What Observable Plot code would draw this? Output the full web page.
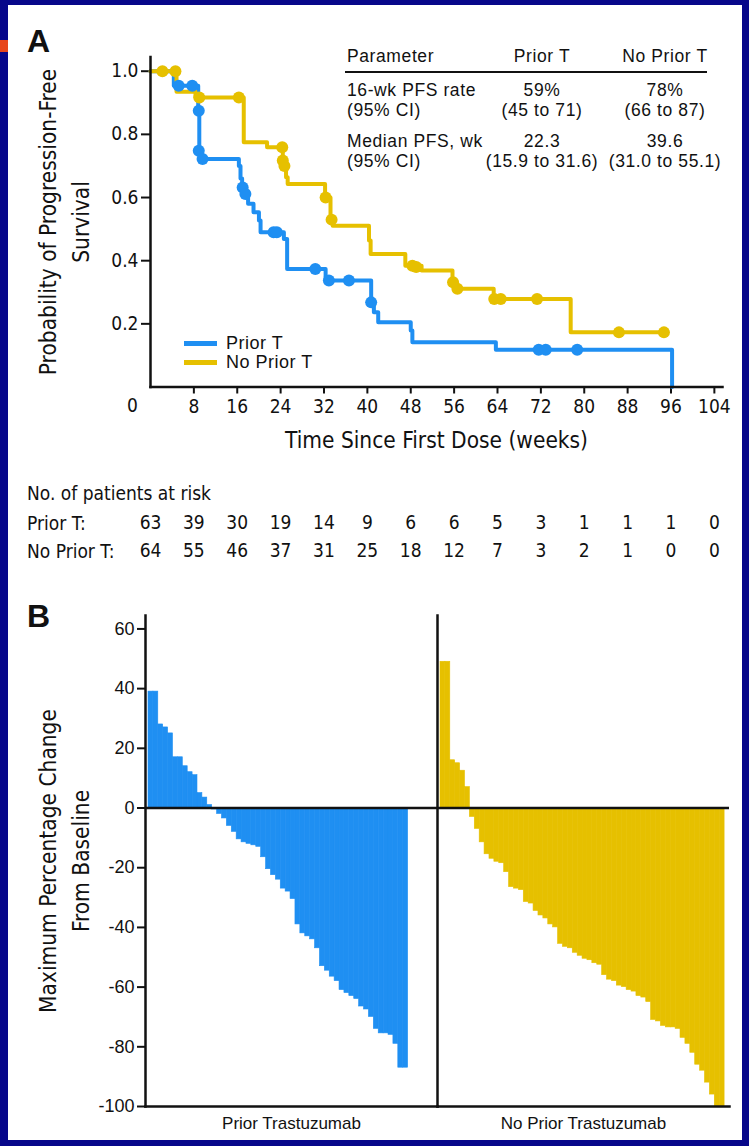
<!DOCTYPE html>
<html><head><meta charset="utf-8">
<script src="https://cdn.jsdelivr.net/npm/d3@7"></script>
<script src="https://cdn.jsdelivr.net/npm/@observablehq/plot@0.6"></script>
<style>
html,body{margin:0;padding:0;}
body{width:749px;height:1146px;background:#07078a;position:relative;overflow:hidden;font-family:"Liberation Sans",Arial,sans-serif;color:#111;}
#sheet{position:absolute;left:8px;top:5px;width:734px;height:1135px;background:#fff;}
#redmark{position:absolute;left:0;top:40px;width:8px;height:12px;background:#e8461c;}
.abs{position:absolute;white-space:nowrap;line-height:1;}
.c{transform:translate(-50%,-50%);}
.l{transform:translate(0,-50%);}
.tbl{font-size:17.5px;letter-spacing:0.6px;}
.nar{font-family:"Liberation Sans Narrow","DejaVu Sans Condensed",sans-serif;font-size:19px;}
.panel{position:absolute;left:27px;font-weight:bold;font-size:32px;line-height:1;}
.sw{position:absolute;height:5px;width:33px;}
svg{position:absolute;left:0;}
</style>
</head><body>
<div id="sheet"></div>
<div id="redmark"></div>
<div id="root"></div>
<script>
// ---------- Panel A data ----------
const xTicksA = [0, 8, 16, 24, 32, 40, 48, 56, 64, 72, 80, 88, 96, 104];
const yTicksA = [0.2, 0.4, 0.6, 0.8, 1.0];
// Kaplan-Meier step points (week, survival)
const priorT_time = [0, 4.3, 8.8, 9.0, 9.5, 16.3, 16.6, 16.9, 17.4, 18.0, 19.0, 20.0, 20.3, 24.6, 25.2, 32.3, 40.7, 41.2, 42.0, 48.0, 48.3, 63.7, 96.2];
const priorT_surv = [1.0, 0.954, 0.875, 0.748, 0.722, 0.70, 0.66, 0.632, 0.611, 0.58, 0.553, 0.527, 0.49, 0.469, 0.374, 0.337, 0.268, 0.237, 0.205, 0.179, 0.142, 0.118, 0];
const noPriorT_time = [0, 4.8, 8.3, 17.2, 21.5, 24.4, 24.7, 25.0, 25.3, 32.2, 33.2, 33.6, 40.3, 40.6, 47.0, 50.0, 55.7, 56.5, 63.3, 77.5, 94.7];
const noPriorT_surv = [1.0, 0.935, 0.917, 0.775, 0.759, 0.717, 0.70, 0.664, 0.643, 0.60, 0.53, 0.511, 0.464, 0.421, 0.384, 0.369, 0.332, 0.311, 0.279, 0.173, 0.173];
// censored observations
const priorT_censTime = [5.2, 7.7, 8.9, 8.9, 9.6, 17.0, 17.5, 22.7, 23.3, 30.4, 32.9, 36.6, 40.7, 71.6, 72.9, 78.7];
const priorT_censSurv = [0.954, 0.954, 0.875, 0.748, 0.722, 0.632, 0.611, 0.49, 0.49, 0.374, 0.337, 0.337, 0.268, 0.118, 0.118, 0.118];
const noPriorT_censTime = [2.2, 4.6, 9.0, 16.3, 24.3, 24.4, 24.7, 32.3, 33.4, 48.3, 49.0, 55.8, 56.6, 63.4, 64.6, 71.3, 86.4, 94.7];
const noPriorT_censSurv = [1.0, 1.0, 0.917, 0.917, 0.759, 0.717, 0.70, 0.60, 0.53, 0.384, 0.38, 0.332, 0.311, 0.279, 0.279, 0.279, 0.173, 0.173];
// patients at risk
const riskPriorT = [63, 39, 30, 19, 14, 9, 6, 6, 5, 3, 1, 1, 1, 0];
const riskNoPriorT = [64, 55, 46, 37, 31, 25, 18, 12, 7, 3, 2, 1, 0, 0];
// summary table
const tableHeader = ["Parameter", "Prior T", "No Prior T"];
const tableParams = [["16-wk PFS rate", "(95% CI)"], ["Median PFS, wk", "(95% CI)"]];
const tablePriorT = [["59%", "(45 to 71)"], ["22.3", "(15.9 to 31.6)"]];
const tableNoPriorT = [["78%", "(66 to 87)"], ["39.6", "(31.0 to 55.1)"]];
const seriesNames = ["Prior T", "No Prior T"];

// ---------- Panel B data ----------
const groupsB = ["Prior Trastuzumab", "No Prior Trastuzumab"];
const yTicksB = [60, 40, 20, 0, -20, -40, -60, -80, -100];
const priorChange = [39, 39, 28, 27, 25, 17, 17, 14, 12, 11, 5, 3.5, 1, -0.5, -2, -3.5, -6, -8, -10.5, -11.5, -12, -12.5, -13, -16.5, -20.5, -22.5, -24, -27, -28, -30.5, -39, -42, -43, -44, -47, -53, -54.5, -56.5, -58, -61, -62, -63, -64, -66.5, -67.5, -70, -74, -75.5, -75.5, -76, -79, -87, -87];
const noPriorChange = [49, 49, 16, 15, 12.5, 7, -3, -7, -11.5, -15.5, -17, -18, -18.5, -21.5, -26.5, -27, -27.5, -31.5, -32, -34.5, -36, -37, -39, -40, -45.5, -46.5, -47, -48.5, -49.5, -50.5, -51, -52, -52.5, -56, -57.5, -58, -59.5, -60, -61, -61.5, -63, -63.5, -65, -71, -71.5, -73, -73.5, -73.5, -74, -77, -79, -82, -86, -88, -92, -96, -100, -100];

const BLUE = "#1f8ff2";
const YELLOW = "#e6c000";
const NARROW = '"Liberation Sans Narrow","DejaVu Sans Condensed",sans-serif';
const REG = '"Liberation Sans",Arial,sans-serif';

const root = document.getElementById("root");
function add(html){ root.insertAdjacentHTML("beforeend", html); }

// ---------- Panel A ----------
const priorSteps = priorT_time.map((t, i) => ({t, s: priorT_surv[i]}));
const noPriorSteps = noPriorT_time.map((t, i) => ({t, s: noPriorT_surv[i]}));
const priorCens = priorT_censTime.map((t, i) => ({t, s: priorT_censSurv[i]}));
const noPriorCens = noPriorT_censTime.map((t, i) => ({t, s: noPriorT_censSurv[i]}));
const riskRows = xTicksA.map((t, i) => ({t, a: riskPriorT[i], b: riskNoPriorT[i]}));

const km = Plot.plot({
  width: 749, height: 570,
  marginLeft: 150, marginRight: 27, marginTop: 56.5, marginBottom: 183.5,
  style: {background: "transparent", fontSize: "19px", fontFamily: NARROW, color: "#111", overflow: "visible"},
  x: {domain: [0, 105.5]},
  y: {domain: [0, 1.045]},
  marks: [
    Plot.axisY({ticks: yTicksA, tickFormat: d3.format(".1f"), tickSize: 9, tickPadding: 3, strokeWidth: 2, label: null}),
    Plot.axisX({ticks: xTicksA.filter(d => d > 0), tickSize: 7, tickPadding: 5, strokeWidth: 2, label: null}),
    Plot.text(xTicksA.filter(d => d === 0), {x: d => d, text: d => String(d), frameAnchor: "bottom", dy: 25, dx: -18}),
    Plot.line(priorSteps, {x: "t", y: "s", curve: "step-after", stroke: BLUE, strokeWidth: 4}),
    Plot.line(noPriorSteps, {x: "t", y: "s", curve: "step-after", stroke: YELLOW, strokeWidth: 4}),
    Plot.dot(priorCens, {x: "t", y: "s", r: 6, fill: BLUE}),
    Plot.dot(noPriorCens, {x: "t", y: "s", r: 6, fill: YELLOW}),
    Plot.frame({anchor: "left", strokeWidth: 2.5}),
    Plot.frame({anchor: "bottom", strokeWidth: 2.5}),
    Plot.text(["Time Since First Dose (weeks)"], {frameAnchor: "bottom", dy: 61, fontSize: 22.5}),
    Plot.text(["Probability of Progression-Free\nSurvival"], {frameAnchor: "left", textAnchor: "middle", rotate: -90, dx: -88.5, lineHeight: 1.47, fontSize: 22.5}),
    Plot.text(riskRows, {x: "t", text: "a", frameAnchor: "bottom", dy: 142, fontSize: 19}),
    Plot.text(riskRows, {x: "t", text: "b", frameAnchor: "bottom", dy: 170, fontSize: 19})
  ]
});
km.style.top = "0px";
root.appendChild(km);

// panel letters
add(`<div class="panel" style="top:25px">A</div>`);
add(`<div class="panel" style="top:600px">B</div>`);

// risk table labels
add(`<div class="abs l nar" style="left:27px;top:493px">No. of patients at risk</div>`);
add(`<div class="abs l nar" style="left:27px;top:523px">${seriesNames[0]}:</div>`);
add(`<div class="abs l nar" style="left:27px;top:551px">${seriesNames[1]}:</div>`);

// legend
add(`<div class="sw" style="left:184px;top:341px;background:${BLUE}"></div>`);
add(`<div class="sw" style="left:184px;top:360px;background:${YELLOW}"></div>`);
add(`<div class="abs l" style="left:226px;top:343px;font-size:18px;letter-spacing:0.5px">${seriesNames[0]}</div>`);
add(`<div class="abs l" style="left:226px;top:362px;font-size:18px;letter-spacing:0.5px">${seriesNames[1]}</div>`);

// summary table
add(`<div class="abs l tbl" style="left:347px;top:57px">${tableHeader[0]}</div>`);
add(`<div class="abs c tbl" style="left:542px;top:57px">${tableHeader[1]}</div>`);
add(`<div class="abs c tbl" style="left:665px;top:57px">${tableHeader[2]}</div>`);
add(`<div class="abs" style="left:345px;top:71px;width:362px;height:2px;background:#111"></div>`);
const rowY = [[91, 111], [142, 162]];
tableParams.forEach((p, r) => {
  p.forEach((txt, k) => {
    add(`<div class="abs l tbl" style="left:347px;top:${rowY[r][k]}px">${txt}</div>`);
    add(`<div class="abs c tbl" style="left:542px;top:${rowY[r][k]}px">${tablePriorT[r][k]}</div>`);
    add(`<div class="abs c tbl" style="left:665px;top:${rowY[r][k]}px">${tableNoPriorT[r][k]}</div>`);
  });
});

// ---------- Panel B ----------
const rowsB = [
  ...priorChange.map((v, i) => ({group: groupsB[0], i, v})),
  ...noPriorChange.map((v, i) => ({group: groupsB[1], i, v}))
];
const slots = d3.range(Math.max(priorChange.length, noPriorChange.length) + 1);

const wf = Plot.plot({
  width: 749, height: 560,
  marginLeft: 145, marginRight: 20, marginTop: 35, marginBottom: 34,
  style: {background: "transparent", fontSize: "18px", fontFamily: REG, color: "#111", overflow: "visible"},
  fx: {domain: groupsB, padding: 0, axis: null},
  x: {type: "band", domain: slots, padding: 0, insetLeft: 3, axis: null},
  y: {domain: [-100, 64.5]},
  color: {domain: groupsB, range: [BLUE, YELLOW]},
  marks: [
    Plot.barY(rowsB, {fx: "group", x: "i", y: "v", fill: "group", stroke: "group", strokeWidth: 0.6}),
    Plot.ruleY([0], {strokeWidth: 2.5}),
    Plot.frame({anchor: "left", strokeWidth: 2.5}),
    Plot.frame({anchor: "bottom", strokeWidth: 2.5}),
    Plot.axisY({ticks: yTicksB, tickFormat: d => String(d), tickSize: 8, tickPadding: 3, strokeWidth: 2, label: null}),
    Plot.axisFx({anchor: "bottom", tickSize: 0, tickPadding: 10, label: null, fontSize: 17, letterSpacing: 1}),
    Plot.text(["Maximum Percentage Change\nFrom Baseline"], {frameAnchor: "left", textAnchor: "middle", facetAnchor: "left", rotate: -90, dx: -83.5, lineHeight: 1.47, fontSize: 22.5, fontFamily: NARROW})
  ]
});
wf.style.top = "580px";
root.appendChild(wf);
</script>
</body></html>
